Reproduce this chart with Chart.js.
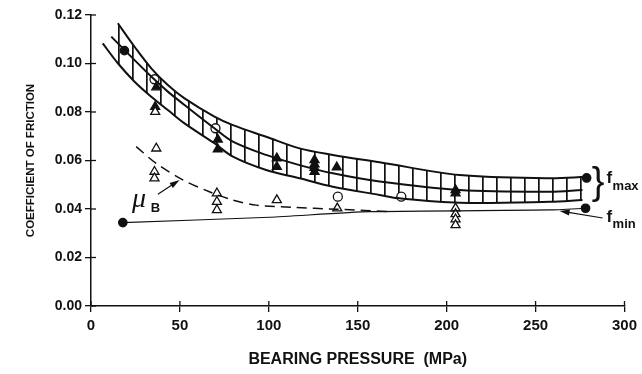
<!DOCTYPE html>
<html><head><meta charset="utf-8">
<script src="https://cdn.jsdelivr.net/npm/chart.js@4/dist/chart.umd.min.js"></script>
<style>html,body{margin:0;padding:0;background:#fff}canvas{display:block}</style>
</head><body>
<canvas id="c" width="642" height="374"></canvas>
<script>
// ---- data ----
const upperX = [15.1,24.5,33.9,43.2,52.6,69.4,79.8,98.5,117.3,136.0,162.3,207.3,257.9,278.5];
const upperY = [0.1166,0.1069,0.0980,0.0911,0.0856,0.0781,0.0746,0.0698,0.0650,0.0623,0.0593,0.0540,0.0527,0.0533];
const midX = [11.4,24.5,33.9,43.2,52.6,69.4,79.8,98.5,117.3,136.0,162.3,207.3,257.9,276.4];
const midY = [0.1111,0.1014,0.0946,0.0884,0.0829,0.0733,0.0678,0.0623,0.0581,0.0547,0.0513,0.0478,0.0471,0.0478];
const lowerX = [6.6,15.1,24.5,33.9,43.2,52.6,69.4,79.8,98.5,117.3,136.0,162.3,173.5,207.3,257.9,276.4];
const lowerY = [0.1083,0.1001,0.0925,0.0863,0.0808,0.0753,0.0671,0.0616,0.0561,0.0527,0.0492,0.0458,0.0444,0.0426,0.0430,0.0437];
const fminX = [17.9,100.4,156.6,257.9,278.1];
const fminY = [0.0344,0.0366,0.0389,0.0396,0.0403];
const muBX = [25.4,36.7,51.6,66.6,79.8,92.9,113.5,137.9,169.7];
const muBY = [0.0657,0.0588,0.0520,0.0471,0.0437,0.0416,0.0407,0.0399,0.0389];
const filledCircleX = [18.8,17.9,278.7,278.1];
const filledCircleY = [0.1053,0.0344,0.0528,0.0403];
const openCircleX = [35.7,70.0,138.8,174.5];
const openCircleY = [0.0935,0.0733,0.0451,0.0451];
const filledTriX = [36.7,36.1,71.3,71.3,104.5,104.5,125.7,125.7,125.7,125.7,138.2,205.0,205.0];
const filledTriY = [0.0902,0.0822,0.0687,0.0646,0.0609,0.0574,0.0602,0.0585,0.0570,0.0554,0.0572,0.0478,0.0465];
const openTriX = [36.1,36.7,35.7,35.7,70.8,70.8,70.8,104.5,138.5,205.0,205.0,205.0,205.0];
const openTriY = [0.0801,0.0650,0.0554,0.0527,0.0465,0.0430,0.0396,0.0437,0.0403,0.0403,0.0379,0.0358,0.0334];
const xTickLabels = ['0','50','100','150','200','250','300'];
const yTickLabels = ['0.00','0.02','0.04','0.06','0.08','0.10','0.12'];

const pts = (xs, ys) => xs.map((x, i) => ({x, y: ys[i]}));

// hatch pattern (vertical lines)
const pc = document.createElement('canvas');
pc.width = 14; pc.height = 4;
const pctx = pc.getContext('2d');
pctx.fillStyle = '#111';
pctx.fillRect(6, 0, 1.7, 4);
const hatch = pctx.createPattern(pc, 'repeat');

const K = '#111';
const lineDs = (data, extra) => Object.assign({type:'line', data, borderColor:K, pointRadius:0, tension:0.35, fill:false, borderWidth:2}, extra||{});
const markDs = (data, style, filled, r) => ({type:'line', data, showLine:false, pointStyle:style, pointRadius:r, borderColor:K, backgroundColor: filled ? K : '#fff', pointBorderWidth:1.3, pointBackgroundColor: filled ? K : '#fff', pointBorderColor:K});

function arrow(ctx, x1, y1, x2, y2) {
  const a = Math.atan2(y2 - y1, x2 - x1);
  ctx.beginPath(); ctx.moveTo(x1, y1); ctx.lineTo(x2 - 6*Math.cos(a), y2 - 6*Math.sin(a)); ctx.stroke();
  ctx.beginPath();
  ctx.moveTo(x2, y2);
  ctx.lineTo(x2 - 10*Math.cos(a) + 3*Math.sin(a), y2 - 10*Math.sin(a) - 3*Math.cos(a));
  ctx.lineTo(x2 - 10*Math.cos(a) - 3*Math.sin(a), y2 - 10*Math.sin(a) + 3*Math.cos(a));
  ctx.closePath(); ctx.fill();
}

const annot = {
  id: 'annot',
  afterDraw(chart) {
    const {ctx, scales: {x, y}} = chart;
    const X = v => x.getPixelForValue(v), Y = v => y.getPixelForValue(v);
    ctx.save();
    ctx.strokeStyle = K; ctx.fillStyle = K; ctx.lineWidth = 1.3;
    x.ticks.forEach(t => { const p = X(t.value); ctx.beginPath(); ctx.moveTo(p, y.bottom); ctx.lineTo(p, y.bottom - 5); ctx.stroke(); });
    y.ticks.forEach(t => { const p = Y(t.value); ctx.beginPath(); ctx.moveTo(x.left, p); ctx.lineTo(x.left + 5, p); ctx.stroke(); });
    ctx.textBaseline = 'middle'; ctx.textAlign = 'center';
    ctx.font = 'italic 28px "Liberation Serif"';
    ctx.fillText('\u03BC', X(27.0), Y(0.0440));
    ctx.font = 'bold 13px "Liberation Sans"';
    ctx.fillText('B', X(36.3), Y(0.0404));
    ctx.lineWidth = 1.2;
    arrow(ctx, X(37.6), Y(0.0461), X(49.8), Y(0.0520));
    ctx.font = '38px "Liberation Sans"';
    ctx.fillText('}', X(285.2), Y(0.0506));
    ctx.textAlign = 'left'; ctx.textBaseline = 'alphabetic';
    ctx.font = 'bold 17px "Liberation Sans"';
    ctx.fillText('f', X(289.9), Y(0.0507));
    ctx.fillText('f', X(289.9), Y(0.0346));
    ctx.font = 'bold 13px "Liberation Sans"';
    ctx.fillText('max', X(293.3), Y(0.0478));
    ctx.fillText('min', X(293.3), Y(0.0322));
    arrow(ctx, X(287.7), Y(0.0363), X(263.5), Y(0.0392));
    ctx.restore();
  }
};

new Chart(document.getElementById('c'), {
  type: 'line',
  data: {
    datasets: [
      lineDs(pts(upperX, upperY), {fill: '+2', backgroundColor: hatch}),
      lineDs(pts(midX, midY), {borderWidth: 2}),
      lineDs(pts(lowerX, lowerY)),
      lineDs(pts(fminX, fminY), {borderWidth: 1.2, tension: 0.2}),
      lineDs(pts(muBX, muBY), {borderWidth: 1.5, borderDash: [10, 6], tension: 0.3}),
      markDs(pts(openTriX, openTriY), 'triangle', false, 5.2),
      markDs(pts(filledTriX, filledTriY), 'triangle', true, 5.2),
      markDs(pts(openCircleX, openCircleY), 'circle', false, 4.5),
      markDs(pts(filledCircleX, filledCircleY), 'circle', true, 4.2)
    ]
  },
  options: {
    responsive: false,
    animation: false,
    devicePixelRatio: 1,
    layout: {padding: {top: 15, right: 17, left: 0, bottom: 0}},
    plugins: {legend: {display: false}, tooltip: {enabled: false}, filler: {drawTime: 'beforeDatasetsDraw'}},
    scales: {
      x: {
        type: 'linear', min: 0, max: 300,
        afterFit: s => { s.height = 68; },
        afterBuildTicks: s => { s.ticks = xTickLabels.map(v => ({value: +v})); },
        ticks: {callback: (v, i) => xTickLabels[i], color: K, font: {family: 'Liberation Sans', size: 15, weight: 'bold'}, padding: 5, maxRotation: 0},
        grid: {drawOnChartArea: false, tickLength: 6, color: K, lineWidth: 1.3},
        border: {color: K, width: 1.5},
        title: {display: true, text: 'BEARING PRESSURE  (MPa)', color: K, font: {family: 'Liberation Sans', size: 16, weight: 'bold'}, padding: {top: 0, bottom: 5}}
      },
      y: {
        type: 'linear', min: 0, max: 0.12,
        afterFit: s => { s.width = 91; },
        afterBuildTicks: s => { s.ticks = yTickLabels.map(v => ({value: +v})); },
        ticks: {callback: (v, i) => yTickLabels[i], color: K, font: {family: 'Liberation Sans', size: 14, weight: 'bold'}, padding: 3},
        grid: {drawOnChartArea: false, tickLength: 6, color: K, lineWidth: 1.3},
        border: {color: K, width: 1.5},
        title: {display: true, text: 'COEFFICIENT OF FRICTION', color: K, font: {family: 'Liberation Sans', size: 11.5, weight: 'bold'}, padding: {top: 24, bottom: 0}}
      }
    }
  },
  plugins: [annot]
});
</script>
</body></html>
